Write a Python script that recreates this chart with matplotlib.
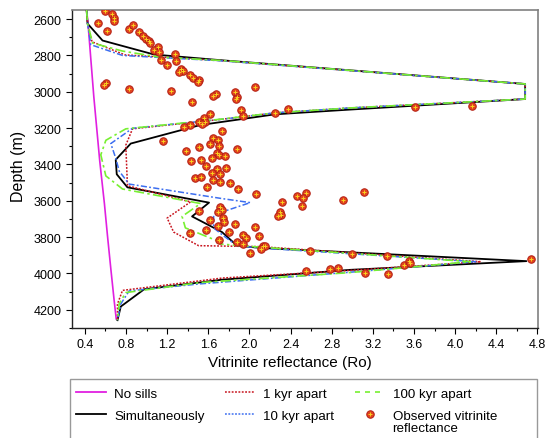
import matplotlib
matplotlib.use("Agg")
import matplotlib.pyplot as plt
from matplotlib.lines import Line2D
from matplotlib.patches import Rectangle

plt.rcParams['font.family'] = ['Liberation Sans', 'DejaVu Sans']

# ---------------- model curves (Ro vs depth) ----------------
nosill_ro = [0.417, 0.43, 0.487, 0.545, 0.59, 0.62, 0.652, 0.685, 0.705]
nosill_z = [2550, 2620, 3027, 3383, 3615, 3793, 3972, 4150, 4250]

simul_ro = [0.417, 0.426, 0.572, 1.073, 1.736, 4.68, 4.68, 2.978, 2.25, 1.522, 0.846, 0.70, 0.71,
            0.814, 1.607, 1.442, 1.733, 1.879, 2.105, 4.692, 2.978, 1.736, 0.976, 0.749, 0.717]
simul_z = [2550, 2625, 2718, 2795, 2827, 2957, 3040, 3098, 3124, 3183, 3285, 3374, 3454,
           3526, 3610, 3686, 3772, 3847, 3859, 3932, 3980, 4034, 4087, 4182, 4257]

kyr1_ro = [0.417, 0.426, 0.47, 0.79, 1.736, 4.68, 4.68, 2.978, 2.25, 1.736, 0.863, 0.798, 0.814,
           1.428, 1.20, 1.263, 1.506, 2.10, 4.25, 2.978, 1.736, 0.766, 0.717, 0.717]
kyr1_z = [2550, 2625, 2725, 2797, 2829, 2957, 3040, 3089, 3116, 3151, 3204, 3294, 3517,
          3606, 3695, 3772, 3847, 3852, 3935, 3983, 4025, 4093, 4168, 4257]

kyr10_ro = [0.417, 0.426, 0.458, 0.766, 1.736, 4.68, 4.68, 2.978, 2.25, 1.736, 0.863, 0.652, 0.70,
            0.734, 0.83, 1.736, 2.008, 1.652, 1.652, 1.749, 1.879, 2.105, 4.20, 2.978, 1.522,
            0.83, 0.749, 0.717]
kyr10_z = [2550, 2625, 2741, 2800, 2830, 2957, 3040, 3089, 3116, 3151, 3201, 3285, 3365,
           3437, 3508, 3588, 3610, 3677, 3749, 3793, 3847, 3860, 3935, 3993, 4057,
           4096, 4168, 4257]

kyr100_ro = [0.417, 0.426, 0.476, 0.766, 1.122, 1.736, 4.68, 4.68, 2.978, 2.25, 1.736, 0.798, 0.604,
             0.555, 0.604, 0.766, 1.525, 1.345, 1.377, 1.685, 1.72, 2.10, 4.15, 2.978, 1.522,
             0.798, 0.734, 0.717]
kyr100_z = [2550, 2625, 2732, 2776, 2809, 2828, 2957, 3040, 3089, 3116, 3150, 3204, 3267,
            3347, 3463, 3535, 3615, 3686, 3749, 3820, 3838, 3855, 3935, 3995, 4050,
            4105, 4166, 4257]

# ---------------- observed vitrinite reflectance ----------------
obs_ro = [0.60, 0.66, 0.68, 0.68, 0.53, 0.62, 0.83, 0.87, 0.93, 0.97, 0.99, 1.02, 1.03,
          1.11, 1.07, 1.12, 1.28, 1.29, 1.14, 1.20, 1.33, 1.35, 1.32, 1.42, 1.45, 1.51, 1.50,
          0.61, 0.59, 0.83, 1.24, 2.05, 1.86, 1.67, 1.65, 1.88, 1.87, 1.44, 1.92, 1.62,
          2.37, 2.25, 3.61, 4.16, 1.56, 1.94, 1.57, 1.51, 1.54, 1.42, 1.36, 1.73, 1.16,
          1.65, 1.69, 1.62, 1.70, 1.51, 1.38, 1.88, 1.68, 1.70, 1.76, 1.43, 1.53, 1.64,
          1.77, 1.58, 1.68, 1.64, 1.71, 1.47, 1.53, 1.65, 1.71, 1.81, 1.59, 1.89, 2.06,
          3.11, 2.55, 2.46, 2.52, 2.32, 2.91, 2.51, 2.30, 1.71, 1.73, 1.69, 1.51, 2.31, 2.28,
          1.62, 1.74, 1.75, 1.86, 1.58, 1.69, 2.05, 1.80, 1.42, 1.94, 1.97, 2.09, 1.70,
          1.88, 1.94, 2.13, 2.15, 2.11, 2.01, 2.59, 2.55, 2.78, 2.86, 3.00, 3.12, 3.34,
          3.35, 3.50, 3.55, 3.56, 4.74]
obs_z = [2554, 2572, 2593, 2613, 2621, 2664, 2652, 2632, 2673, 2693, 2711, 2721, 2734,
         2755, 2772, 2782, 2793, 2832, 2823, 2855, 2873, 2884, 2893, 2905, 2924, 2934, 2945,
         2953, 2965, 2982, 2994, 2975, 3004, 3013, 3025, 3030, 3042, 3054, 3103, 3123,
         3093, 3115, 3085, 3076, 3147, 3135, 3164, 3167, 3178, 3182, 3196, 3214, 3272,
         3255, 3263, 3286, 3296, 3306, 3324, 3316, 3336, 3347, 3356, 3383, 3376, 3365,
         3417, 3406, 3425, 3445, 3454, 3476, 3467, 3487, 3496, 3504, 3526, 3537, 3565,
         3549, 3556, 3576, 3587, 3606, 3597, 3626, 3664, 3636, 3649, 3662, 3657, 3677, 3684,
         3706, 3697, 3718, 3726, 3758, 3736, 3745, 3769, 3775, 3787, 3807, 3795, 3817,
         3829, 3838, 3850, 3847, 3865, 3888, 3878, 3987, 3977, 3968, 3895, 3998, 3905,
         4004, 3954, 3932, 3941, 3918]

x_ticks = [0.4, 0.8, 1.2, 1.6, 2.0, 2.4, 2.8, 3.2, 3.6, 4.0, 4.4, 4.8]
y_ticks = [2600, 2800, 3000, 3200, 3400, 3600, 3800, 4000, 4200]

magenta = '#E020E0'
red = '#C8141E'
blue = '#3C6EF0'
green = '#78F032'
dot_face = '#E2451E'
dot_edge = '#B41E14'
dot_cross = '#F8D21E'

fig = plt.figure(figsize=(5.49, 4.39), dpi=100)
ax = fig.add_axes([72/549, 1-329/439, 466/549, 318/439])

ax.plot(nosill_ro, nosill_z, color=magenta, lw=1.2, zorder=3)
ax.plot(simul_ro, simul_z, color='black', lw=1.3, zorder=3)
ax.plot(kyr1_ro, kyr1_z, color=red, lw=1.1, ls=(0, (1.2, 1.0)), zorder=4)
ax.plot(kyr10_ro, kyr10_z, color=blue, lw=1.1, ls=(0, (4, 1.5, 1.2, 1.5)), zorder=4)
ax.plot(kyr100_ro, kyr100_z, color=green, lw=1.2, ls=(0, (6, 2, 1.5, 2)), zorder=4)

ax.plot(obs_ro, obs_z, ls='none', marker='o', ms=5.4, mfc=dot_face, mec=dot_edge, mew=0.7, zorder=5)
ax.plot(obs_ro, obs_z, ls='none', marker='+', ms=2.8, mec=dot_cross, mew=0.7, zorder=6)

ax.set_xlim(0.275, 4.805)
ax.set_ylim(4251, 2550)
ax.set_xticks(x_ticks)
ax.set_xticklabels([f'{v:.1f}' for v in x_ticks])
ax.set_yticks(y_ticks)
ax.set_xticks([v + 0.2 for v in x_ticks[:-1]], minor=True)
ax.set_yticks([v + 100 for v in y_ticks], minor=True)
ax.tick_params(which='major', direction='out', length=4, width=0.8, labelsize=9)
ax.tick_params(which='minor', direction='out', length=2.5, width=0.8)

for s in ['left', 'bottom']:
    ax.spines[s].set_color('#222222')
    ax.spines[s].set_linewidth(1.0)
for s in ['top', 'right']:
    ax.spines[s].set_color('#808080')
    ax.spines[s].set_linewidth(1.2)

fig.text(290/549, 1-363/439, 'Vitrinite reflectance (Ro)', ha='center', va='center', fontsize=11)
fig.text(19/549, 1-166/439, 'Depth (m)', ha='center', va='center', rotation=90, fontsize=11.5)

# legend
fig.patches.append(Rectangle((70/549, -0.02), (537-70)/549, 0.02 + 1-380/439,
                             transform=fig.transFigure, fill=False, edgecolor='#999999', lw=1.0))
h_ns = Line2D([], [], color=magenta, lw=1.3)
h_si = Line2D([], [], color='black', lw=1.3)
h_1 = Line2D([], [], color=red, lw=1.1, ls=(0, (1.2, 1.0)))
h_10 = Line2D([], [], color=blue, lw=1.1, ls=(0, (1.2, 1.0)))
h_100 = Line2D([], [], color=green, lw=1.2, ls=(0, (3, 3)))
h_obs = (Line2D([], [], ls='none', marker='o', ms=5.4, mfc=dot_face, mec=dot_edge, mew=0.7),
         Line2D([], [], ls='none', marker='+', ms=2.8, mec=dot_cross, mew=0.7))
fig.legend([h_ns, h_si, h_1, h_10, h_100, h_obs],
           ['No sills', 'Simultaneously', '1 kyr apart', '10 kyr apart', '100 kyr apart',
            'Observed vitrinite'],
           ncol=3, loc='upper left', bbox_to_anchor=(76/549, 1-388.5/439), frameon=False,
           fontsize=9.6, handlelength=2.25, handletextpad=0.6, columnspacing=1.55,
           labelspacing=0.72, borderpad=0, borderaxespad=0)
fig.text(392/549, 1-429/439, 'reflectance', ha='left', va='center', fontsize=9.6)

fig.savefig('out.png', dpi=100)
